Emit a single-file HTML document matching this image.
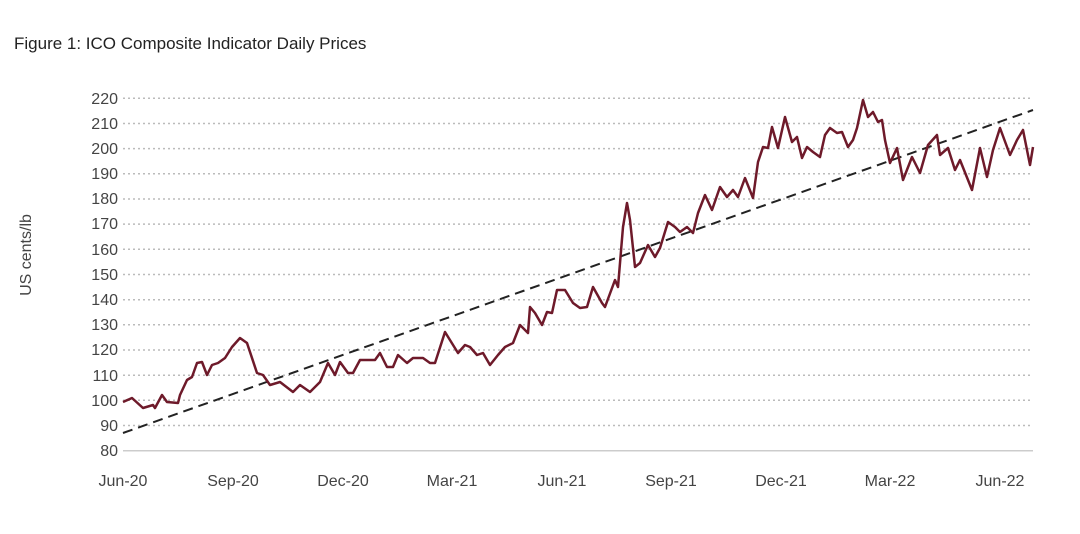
<!DOCTYPE html>
<html><head><meta charset="utf-8"><style>
body{margin:0;background:#fff;}
svg{display:block;font-family:"Liberation Sans",sans-serif;}
</style></head><body>
<svg width="1080" height="534" viewBox="0 0 1080 534">
<text x="14" y="49" font-size="17" fill="#222">Figure 1: ICO Composite Indicator Daily Prices</text>
<g stroke="#bbb" stroke-width="1.5" stroke-dasharray="2,3">
<line x1="123" x2="1033" y1="98.3" y2="98.3"/><line x1="123" x2="1033" y1="123.5" y2="123.5"/>
<line x1="123" x2="1033" y1="148.6" y2="148.6"/><line x1="123" x2="1033" y1="173.8" y2="173.8"/>
<line x1="123" x2="1033" y1="199" y2="199"/><line x1="123" x2="1033" y1="224.1" y2="224.1"/>
<line x1="123" x2="1033" y1="249.3" y2="249.3"/><line x1="123" x2="1033" y1="274.5" y2="274.5"/>
<line x1="123" x2="1033" y1="299.7" y2="299.7"/><line x1="123" x2="1033" y1="324.8" y2="324.8"/>
<line x1="123" x2="1033" y1="350" y2="350"/><line x1="123" x2="1033" y1="375.2" y2="375.2"/>
<line x1="123" x2="1033" y1="400.3" y2="400.3"/><line x1="123" x2="1033" y1="425.5" y2="425.5"/>
</g>
<line x1="123" x2="1033" y1="450.7" y2="450.7" stroke="#ccc" stroke-width="1.5"/>
<g font-size="16" fill="#444" text-anchor="end">
<text x="118" y="104">220</text><text x="118" y="129">210</text><text x="118" y="154">200</text>
<text x="118" y="179">190</text><text x="118" y="204">180</text><text x="118" y="229">170</text>
<text x="118" y="255">160</text><text x="118" y="280">150</text><text x="118" y="305">140</text>
<text x="118" y="330">130</text><text x="118" y="355">120</text><text x="118" y="381">110</text>
<text x="118" y="406">100</text><text x="118" y="431">90</text><text x="118" y="456">80</text>
</g>
<text transform="translate(31,255) rotate(-90)" font-size="16" fill="#444" text-anchor="middle">US cents/lb</text>
<g font-size="16" fill="#444" text-anchor="middle">
<text x="123" y="486">Jun-20</text><text x="233" y="486">Sep-20</text><text x="343" y="486">Dec-20</text>
<text x="452" y="486">Mar-21</text><text x="562" y="486">Jun-21</text><text x="671" y="486">Sep-21</text>
<text x="781" y="486">Dec-21</text><text x="890" y="486">Mar-22</text><text x="1000" y="486">Jun-22</text>
</g>
<line x1="123" y1="433" x2="1033" y2="110" stroke="#222" stroke-width="2" stroke-dasharray="10,6"/>
<polyline fill="none" stroke="#6e1a2a" stroke-width="2.5" stroke-linejoin="round" points="
123,402 132,398 143,408 153,405 155,408 162,395 167,402 178,403 180,395 187,380 192,377 197,363 202,362 207,375 212,365 218,363 225,358 232,347 240,338 247,343 257,373 263,375 270,385 280,382 293,392 300,385 310,392 320,382 328,363 335,375 340,362 348,373 353,373 360,360 375,360 380,353 387,367 393,367 398,355 407,363 413,358 423,358 430,363 435,363 445,332 458,353 465,345 470,347 477,355 483,353 490,365 498,355 505,347 513,343 520,325 528,333 530,307 535,313 542,325 547,312 552,313 557,290 565,290 573,303 580,308 587,307 593,287 602,303 605,307 615,280 618,287 623,227 627,203 630,220 635,267 640,263 648,245 655,257 660,248 668,222 675,227 680,232 687,227 693,233 698,213 705,195 712,210 720,187 727,197 733,190 738,197 745,178 753,198 758,162 763,147 768,148 772,127 778,148 785,117 792,142 797,137 802,158 807,147 813,152 820,157 825,135 830,128 837,133 842,132 848,147 853,140 857,128 863,100 868,117 873,112 878,122 882,120 885,140 890,163 897,148 903,180 912,157 920,173 928,145 937,135 940,155 948,148 955,170 960,160 972,190 980,148 987,177 993,150 1000,128 1010,155 1017,140 1023,130 1030,165 1033,147"/>
</svg>
</body></html>
